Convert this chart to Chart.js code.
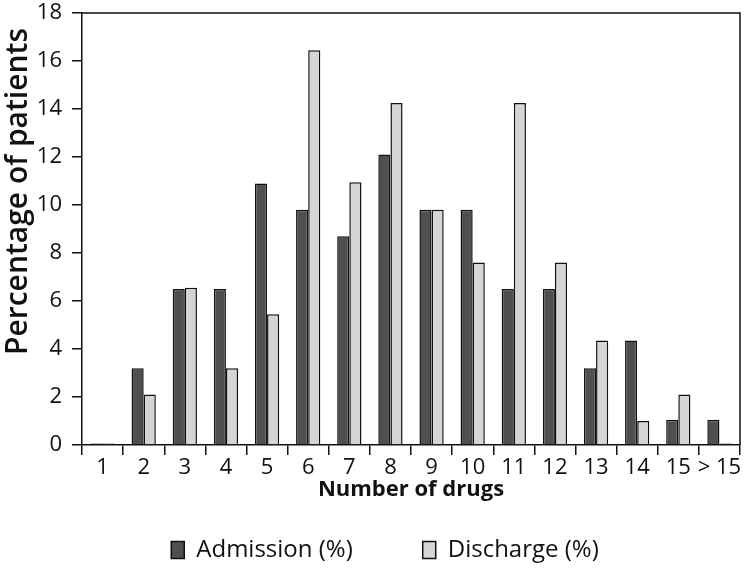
<!DOCTYPE html>
<html>
  <head>
    <style>
      body { margin: 0; background: #fff; }
      .container { width: 750px; height: 576px; }
    </style>
  </head>
  <body>
    <div class="container">
      <canvas id="drugs" width="750" height="576"></canvas>
    </div>

    <script src="https://cdn.jsdelivr.net/npm/chart.js"></script>
    <script>
      const categories = ['1', '2', '3', '4', '5', '6', '7', '8', '9', '10', '11', '12', '13', '14', '15', '> 15'];
      const admission = [0.06, 3.2, 6.5, 6.5, 10.9, 9.8, 8.7, 12.1, 9.8, 9.8, 6.5, 6.5, 3.2, 4.35, 1.05, 1.05];
      const discharge = [0.06, 2.1, 6.55, 3.2, 5.45, 16.45, 10.95, 14.25, 9.8, 7.6, 14.25, 7.6, 4.35, 1.0, 2.1, 0.06];
      const yTicks = [0, 2, 4, 6, 8, 10, 12, 14, 16, 18];

      const fontFamily = '"Open Sans", "Noto Sans", sans-serif';
      const ink = '#111';

      // box round the plot area (top and right sides), legend nudged right
      const frame = {
        id: 'frame',
        afterLayout(chart) {
          chart.legend.left += 15;
          chart.legend.right += 15;
        },
        afterDraw(chart) {
          const { ctx, chartArea: a } = chart;
          ctx.save();
          ctx.strokeStyle = ink;
          ctx.lineWidth = 1.5;
          ctx.beginPath();
          ctx.moveTo(a.left, a.top);
          ctx.lineTo(a.right, a.top);
          ctx.lineTo(a.right, a.bottom);
          ctx.stroke();
          ctx.restore();
        },
      };

      const config = {
        type: 'bar',
        data: {
          labels: categories,
          datasets: [
            {
              label: 'Admission (%)',
              data: admission,
              backgroundColor: '#4f4f4f',
              borderColor: ink,
              borderWidth: 1.5,
            },
            {
              label: 'Discharge (%)',
              data: discharge,
              backgroundColor: '#d5d5d5',
              borderColor: ink,
              borderWidth: 1.5,
            },
          ],
        },
        options: {
          responsive: false,
          animation: false,
          layout: { padding: { top: 13, right: 10, left: 0, bottom: 4 } },
          datasets: {
            bar: { categoryPercentage: 0.59, barPercentage: 1 },
          },
          plugins: {
            tooltip: { enabled: false },
            legend: {
              position: 'bottom',
              labels: {
                color: ink,
                font: { family: fontFamily, size: 24 },
                boxWidth: 13,
                boxHeight: 17,
                padding: 10,
                generateLabels(chart) {
                  const items = Chart.defaults.plugins.legend.labels.generateLabels(chart);
                  // wider gap after the first entry, as in the original
                  items[0].text += '\u2003\u2003\u2002';
                  return items;
                },
              },
            },
          },
          scales: {
            x: {
              grid: {
                display: true,
                drawOnChartArea: false,
                offset: true,
                tickLength: 10,
                color: ink,
                lineWidth: 1.5,
              },
              border: { color: ink, width: 1.5 },
              ticks: {
                color: ink,
                font: { family: fontFamily, size: 22 },
                padding: 0,
                maxRotation: 0,
                autoSkip: false,
              },
              title: {
                display: true,
                text: 'Number of drugs',
                color: ink,
                font: { family: fontFamily, size: 22, weight: 'bold' },
                padding: { top: 0, bottom: 25 },
              },
              afterFit(scale) {
                scale.height = 83;
                scale.paddingRight = 0;
              },
            },
            y: {
              min: 0,
              max: 18,
              afterBuildTicks(scale) {
                scale.ticks = yTicks.map((v) => ({ value: v }));
              },
              grid: {
                display: true,
                drawOnChartArea: false,
                tickLength: 10,
                color: ink,
                lineWidth: 1.5,
              },
              border: { color: ink, width: 1.5 },
              ticks: {
                color: ink,
                font: { family: fontFamily, size: 22 },
                padding: 10,
              },
              title: {
                display: true,
                text: 'Percentage of patients\u2002',
                align: 'end',
                color: ink,
                font: { family: fontFamily, size: 30, weight: '600' },
                padding: { top: 0, bottom: 0 },
              },
              afterFit(scale) {
                scale.width = 82;
                scale.paddingTop = 0;
                scale.paddingBottom = 0;
              },
            },
          },
        },
        plugins: [frame],
      };

      const chart = new Chart(document.getElementById('drugs'), config);
    </script>
  </body>
</html>
